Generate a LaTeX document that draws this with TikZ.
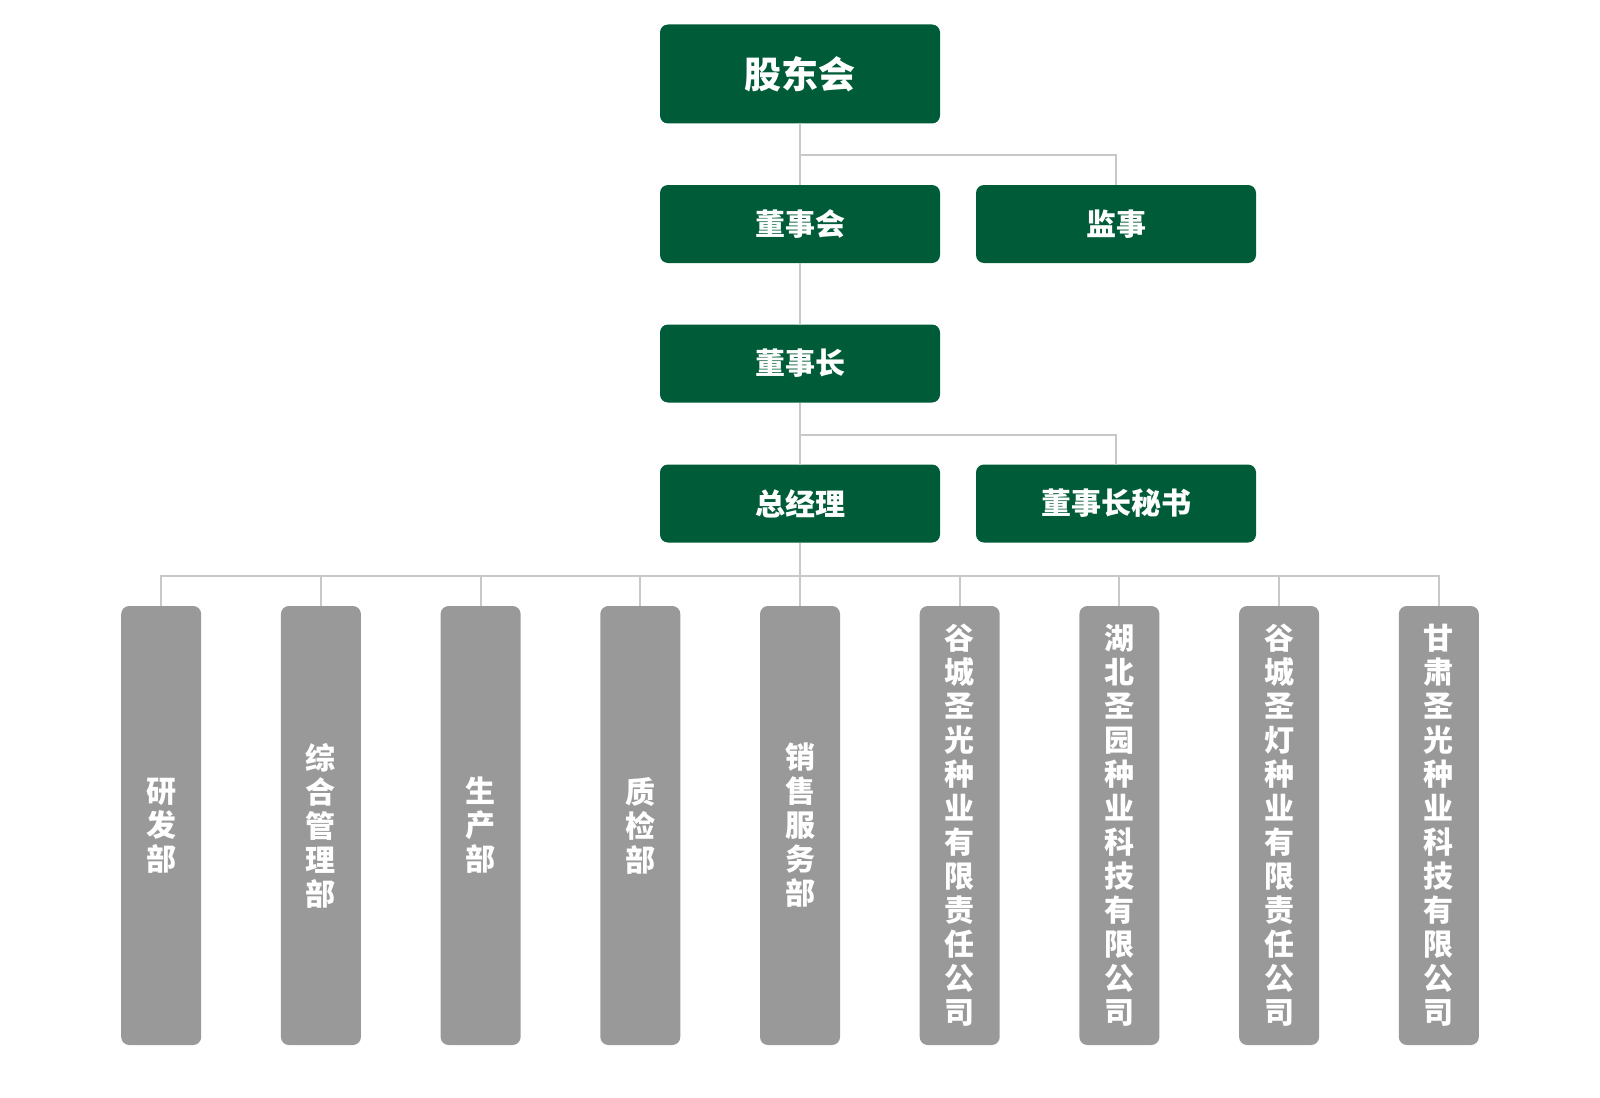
\documentclass[tikz,border=0pt]{standalone}
\usepackage{fontspec}
\setmainfont{Noto Sans CJK SC}
\usepackage{tikz}
\usetikzlibrary{positioning}
\definecolor{boxgreen}{RGB}{0,92,56}
\definecolor{boxgray}{RGB}{153,153,153}
\definecolor{linegray}{RGB}{200,200,200}
\tikzset{
    green-box/.style = {fill=boxgreen, text=white, rectangle, rounded corners=4pt, minimum width=140pt, minimum height=39pt, inner sep=0pt, outer sep=0pt, font=\bfseries\fontsize{15pt}{17pt}\selectfont},
    gray-box/.style = {fill=boxgray, text=white, rectangle, rounded corners=4pt, minimum width=40pt, minimum height=219.5pt, inner sep=0pt, outer sep=0pt, align=center, font=\bfseries\fontsize{15pt}{17pt}\selectfont},
    link/.style = {draw=linegray, line width=1pt},
}

\begin{document}
\begin{tikzpicture}[x=0.5pt, y=-0.5pt]
\useasboundingbox (0,0) rectangle (1600,1097);

% top levels
\node [green-box, minimum height=49.5pt, font=\bfseries\fontsize{18.5pt}{20pt}\selectfont] (gudong) at (800,74) {股东会};
\node [green-box] (dongshihui) at (800,224) {董事会};
\node [green-box, right=18pt of dongshihui] (jianshi) {监事};
\node [green-box] (dongshizhang) at (800,363.5) {董事长};
\node [green-box] (zongjingli) at (800,503.5) {总经理};
\node [green-box, right=18pt of zongjingli] (mishu) {董事长秘书};

% departments and companies
\node [gray-box] (yanfa) at (161.2,825.5) {研\\发\\部};
\node [gray-box, right=39.85pt of yanfa] (zonghe) {综\\合\\管\\理\\部};
\node [gray-box, right=39.85pt of zonghe] (shengchan) {生\\产\\部};
\node [gray-box, right=39.85pt of shengchan] (zhijian) {质\\检\\部};
\node [gray-box, right=39.85pt of zhijian] (xiaoshou) {销\\售\\服\\务\\部};
\node [gray-box, right=39.85pt of xiaoshou] (guangcheng) {谷\\城\\圣\\光\\种\\业\\有\\限\\责\\任\\公\\司};
\node [gray-box, right=39.85pt of guangcheng] (hubei) {湖\\北\\圣\\园\\种\\业\\科\\技\\有\\限\\公\\司};
\node [gray-box, right=39.85pt of hubei] (dengcheng) {谷\\城\\圣\\灯\\种\\业\\有\\限\\责\\任\\公\\司};
\node [gray-box, right=39.85pt of dengcheng] (gansu) {甘\\肃\\圣\\光\\种\\业\\科\\技\\有\\限\\公\\司};

% connectors
\coordinate (bus1) at (800,155);
\coordinate (bus2) at (800,435);
\coordinate (bus3) at (800,575.5);
\draw [link] (gudong.south) -- (dongshihui.north);
\draw [link] (bus1) -| (jianshi.north);
\draw [link] (dongshihui.south) -- (dongshizhang.north);
\draw [link] (dongshizhang.south) -- (zongjingli.north);
\draw [link] (bus2) -| (mishu.north);
\draw [link] (zongjingli.south) -- (xiaoshou.north);
\draw [link] (bus3) -| (yanfa.north);
\draw [link] (bus3) -| (zonghe.north);
\draw [link] (bus3) -| (shengchan.north);
\draw [link] (bus3) -| (zhijian.north);
\draw [link] (bus3) -| (guangcheng.north);
\draw [link] (bus3) -| (hubei.north);
\draw [link] (bus3) -| (dengcheng.north);
\draw [link] (bus3) -| (gansu.north);
\end{tikzpicture}
\end{document}
